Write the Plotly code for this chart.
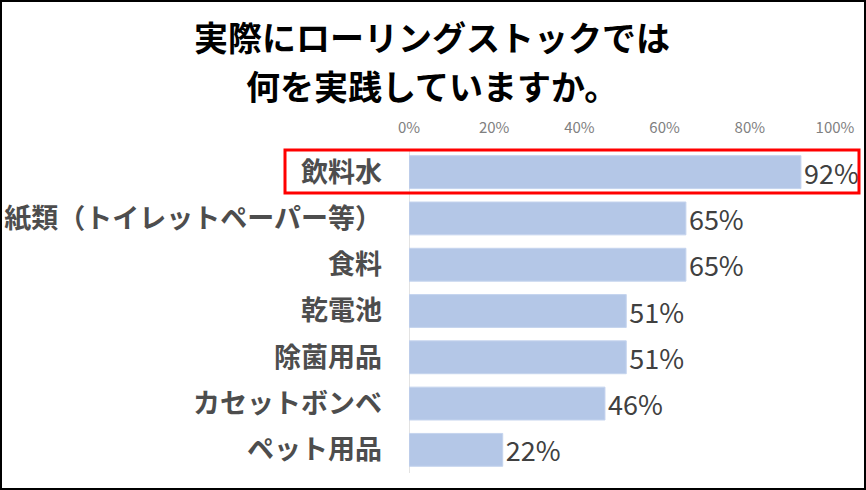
import plotly.graph_objects as go

# データ
categories = ['飲料水', '紙類（トイレットペーパー等）', '食料', '乾電池', '除菌用品', 'カセットボンベ', 'ペット用品']
values = [0.92, 0.65, 0.65, 0.51, 0.51, 0.46, 0.22]
title_lines = ['実際にローリングストックでは', '何を実践していますか。']

FONT = 'Noto Sans CJK JP'

# 画素 -> paper 座標の変換 (プロット領域: x 409..835, y 149..473)
L, R, T, B = 409, 835, 149, 473
def px(x):
    return (x - L) / (R - L)
def py(y):
    return (B - y) / (B - T)

fig = go.Figure()

fig.add_trace(go.Bar(
    x=values,
    y=categories,
    orientation='h',
    width=0.71,
    marker=dict(color='#b4c7e7', line=dict(color='#c5d4ee', width=1)),
    text=values,
    texttemplate='%{x:.0%}',
    textposition='outside',
    constraintext='none',
    textfont=dict(family=FONT, size=27, color='#404040'),
    cliponaxis=False,
    showlegend=False
))

# タイトル (2行、重ならないよう別々の注釈)
for i, line in enumerate(title_lines):
    fig.add_annotation(
        text=f'<b>{line}</b>',
        xref='paper', yref='paper',
        x=px(432), y=py(36 + 49 * i),
        showarrow=False,
        xanchor='center', yanchor='middle',
        font=dict(family=FONT, size=34, color='black')
    )

# 赤枠 (飲料水を強調)
fig.add_shape(type='rect', xref='paper', yref='paper',
              x0=px(285), x1=px(859), y0=py(193), y1=py(150),
              line=dict(color='#ff0000', width=3))

# 外枠
fig.add_shape(type='rect', xref='paper', yref='paper',
              x0=px(1), x1=px(865), y0=py(489), y1=py(1),
              line=dict(color='black', width=2))

fig.update_layout(
    width=866, height=490,
    margin=dict(l=L, r=866 - R, t=T, b=490 - B),
    paper_bgcolor='white',
    plot_bgcolor='white',
    xaxis=dict(
        side='top',
        range=[0, 1],
        dtick=0.2,
        tickformat='.0%',
        showgrid=False,
        zeroline=True,
        zerolinecolor='#e3e3e3',
        zerolinewidth=1,
        tickfont=dict(family=FONT, size=15, color='#808080'),
        ticklabelstandoff=12,
        fixedrange=True
    ),
    yaxis=dict(
        autorange='reversed',
        showgrid=False,
        tickvals=categories,
        ticktext=[f'<b>{c}</b>' for c in categories],
        tickfont=dict(family=FONT, size=27, color='#4d4d4d'),
        ticklabelstandoff=26,
        automargin=False,
        fixedrange=True
    ),
    font=dict(family=FONT)
)

fig.write_html('out.html', config={'displayModeBar': False},
               post_script="document.body.style.margin='0px';")
